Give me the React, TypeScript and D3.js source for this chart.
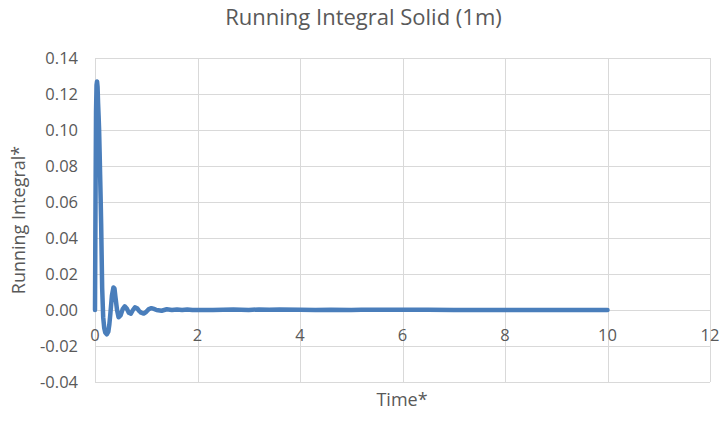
import React from "react";
import * as d3 from "d3";

const time = [0, 0.01, 0.02, 0.03, 0.04, 0.05, 0.06, 0.07, 0.08, 0.09, 0.10, 0.11, 0.12, 0.13, 0.14, 0.16, 0.18, 0.20, 0.23, 0.26, 0.28, 0.30, 0.33, 0.36, 0.38, 0.40, 0.43, 0.46, 0.50, 0.54, 0.58, 0.62, 0.66, 0.70, 0.74, 0.78, 0.82, 0.86, 0.90, 0.95, 1.0, 1.05, 1.1, 1.15, 1.2, 1.3, 1.4, 1.5, 1.6, 1.7, 1.8, 1.9, 2.0, 2.3, 2.7, 3.0, 3.2, 3.4, 3.6, 4.0, 4.3, 4.6, 5.0, 5.2, 5.9, 6.5, 7.0, 8.0, 9.0, 10.0];
const runningIntegral = [0, 0.06, 0.11, 0.125, 0.127, 0.124, 0.115, 0.108, 0.10, 0.088, 0.075, 0.062, 0.048, 0.03, 0.012, -0.004, -0.010, -0.0125, -0.0135, -0.012, -0.008, -0.002, 0.008, 0.0125, 0.012, 0.007, 0.0, -0.004, -0.003, 0.0005, 0.002, 0.0008, -0.0015, -0.002, 0.0, 0.0015, 0.001, -0.0005, -0.0015, -0.002, -0.001, 0.0005, 0.001, 0.0006, 0.0, -0.0004, 0.0004, 0.0, 0.0003, 0.0, 0.0003, 0.0, 0.0, 0.0, 0.0003, 0.0, 0.0003, 0.0002, 0.0003, 0.0002, 0.0, 0.0002, 0.0, 0.0002, 0.0002, 0.0002, 0.0, 0.0, 0.0, 0.0];
const xTicks = [0, 2, 4, 6, 8, 10, 12];
const yTicks = [-0.04, -0.02, 0, 0.02, 0.04, 0.06, 0.08, 0.1, 0.12, 0.14];

const W = 727, H = 431;
const FONT = "'Open Sans', sans-serif";
const TEXT = "#595959";
const fmtY = (v: number) => d3.format(".2f")(v).replace("\u2212", "-");

export default function App() {
  const x = d3.scaleLinear().domain([0, 12]).range([95, 710]);
  const y = d3.scaleLinear().domain([-0.04, 0.14]).range([382, 58]);
  const pts = time.map((t, i) => [t, runningIntegral[i]] as [number, number]);
  const line = d3.line<[number, number]>().x(d => x(d[0])).y(d => y(d[1]));
  return (
    <svg width={W} height={H} style={{ position: "absolute", left: 0, top: 0, background: "#fff" }} fontFamily={FONT}>
      <rect width={W} height={H} fill="#fff" />
      {yTicks.map(v => (
        <line key={"gy" + v} x1={x(0)} x2={x(12)} y1={Math.round(y(v)) + 0.5} y2={Math.round(y(v)) + 0.5} stroke="#d9d9d9" strokeWidth={1} />
      ))}
      {xTicks.map(v => (
        <line key={"gx" + v} x1={Math.round(x(v)) + 0.5} x2={Math.round(x(v)) + 0.5} y1={y(0.14)} y2={y(-0.04)} stroke="#d9d9d9" strokeWidth={1} />
      ))}
      {yTicks.map(v => (
        <text key={"ty" + v} x={78} y={y(v)} dy="0.35em" textAnchor="end" fontSize={16.5} fill={TEXT}>{fmtY(v)}</text>
      ))}
      {xTicks.map(v => (
        <text key={"tx" + v} x={x(v)} y={y(0) + 31} textAnchor="middle" fontSize={16.5} fill={TEXT}>{v}</text>
      ))}
      <path d={line(pts) || ""} fill="none" stroke="#4a7ebb" strokeWidth={4.5} strokeLinejoin="round" strokeLinecap="round" />
      <text x={W / 2} y={25} textAnchor="middle" fontSize={22} fill={TEXT}>Running Integral Solid (1m)</text>
      <text x={402} y={406} textAnchor="middle" fontSize={18} fill={TEXT}>Time*</text>
      <text transform={`translate(25,${(y(0.14) + y(-0.04)) / 2}) rotate(-90)`} textAnchor="middle" fontSize={18} fill={TEXT}>Running Integral*</text>
    </svg>
  );
}
